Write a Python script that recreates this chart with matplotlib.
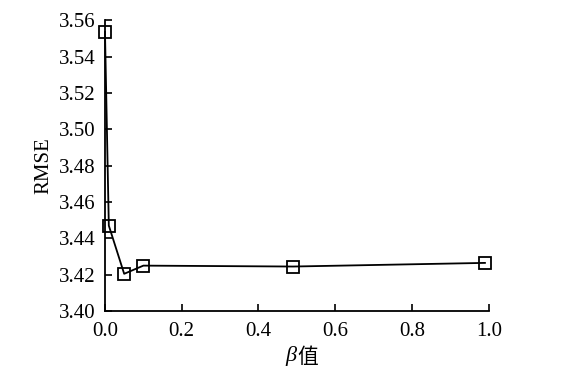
import matplotlib
matplotlib.use("Agg")
import matplotlib.pyplot as plt

# beta values and RMSE
beta = [0.0, 0.01, 0.05, 0.1, 0.49, 0.99]
rmse = [3.5535, 3.447, 3.4205, 3.425, 3.4245, 3.4265]

yticks = [3.40, 3.42, 3.44, 3.46, 3.48, 3.50, 3.52, 3.54, 3.56]
xticks = [0.0, 0.2, 0.4, 0.6, 0.8, 1.0]

plt.rcParams["font.family"] = ["Liberation Serif", "Noto Sans CJK SC"]
plt.rcParams["font.size"] = 15

fig = plt.figure(figsize=(5.69, 3.73), dpi=100, facecolor="white")
ax = fig.add_axes([0.1845, 0.166, 0.6745, 0.78])

ax.plot(beta, rmse, color="black", linewidth=1.3, marker="s", markersize=8.5,
        markerfacecolor="none", markeredgecolor="black", markeredgewidth=1.3,
        clip_on=False, zorder=3)

ax.set_xlim(0, 1.0)
ax.set_ylim(3.40, 3.56)
ax.set_xticks(xticks)
ax.set_xticklabels([f"{v:.1f}" for v in xticks])
ax.set_yticks(yticks)
ax.set_yticklabels([f"{v:.2f}" for v in yticks])
ax.tick_params(direction="in", length=5, width=1.2, labelsize=15)
ax.tick_params(axis="x", pad=8)
ax.tick_params(axis="y", pad=7)
for side in ("top", "right"):
    ax.spines[side].set_visible(False)
for side in ("left", "bottom"):
    ax.spines[side].set_linewidth(1.3)

ax.set_ylabel("RMSE", fontsize=15, labelpad=4)
ax.text(0.5, -0.12, "β", transform=ax.transAxes, ha="right", va="top",
        fontsize=16, style="italic", family="Liberation Serif")
ax.text(0.5, -0.12, "值", transform=ax.transAxes, ha="left", va="top",
        fontsize=15, family="Noto Sans CJK SC")

fig.savefig("out.png", dpi=100, facecolor="white")
